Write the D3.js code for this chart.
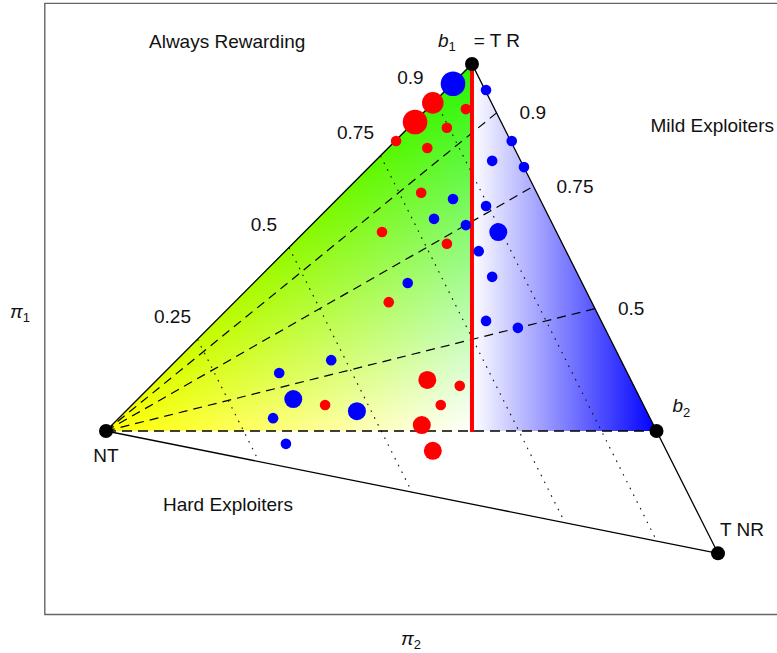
<!DOCTYPE html>
<html>
<head>
<meta charset="utf-8">
<script src="https://cdn.jsdelivr.net/npm/d3@7"></script>
<style>
  body { margin: 0; background: #fff; }
  text { font-family: "Liberation Sans", Arial, sans-serif; font-size: 19px; fill: #111; }
</style>
</head>
<body>
<svg id="chart" width="777" height="653"></svg>
<script>
// vertices of the simplex, in (pi2, pi1) plot units
var vertices = [
  {name: "NT",  p2: 0,      p1: 0},
  {name: "TR",  p2: 0.598,  p1: 1},
  {name: "b2",  p2: 0.8995, p1: 0},
  {name: "TNR", p2: 1,      p1: -1/3}
];

var leftTicks = [0.25, 0.5, 0.75, 0.9];   // along NT -> TR, also the dotted levels
var rightTicks = [0.9, 0.75, 0.5];        // along TR -> TNR
var fanLevels = [0.9, 0.75, 0.5, 0.25];   // dashed rays out of NT (0.25 = b2)

var regionLabels = ["Always Rewarding", "Mild Exploiters", "Hard Exploiters"];

// [pi2, pi1, size class]
var redPoints = [
  [0.505, 0.842, 4], [0.534, 0.894, 3], [0.588, 0.877, 1], [0.557, 0.826, 1],
  [0.525, 0.771, 1], [0.474, 0.790, 1], [0.515, 0.649, 1], [0.451, 0.542, 1],
  [0.557, 0.510, 1], [0.462, 0.351, 1], [0.358, 0.071, 1], [0.525, 0.139, 2],
  [0.578, 0.123, 1], [0.547, 0.071, 1], [0.516, 0.016, 2], [0.534, -0.054, 2]
];
var bluePoints = [
  [0.567, 0.946, 4], [0.621, 0.929, 1], [0.663, 0.790, 1], [0.631, 0.736, 1],
  [0.683, 0.719, 1], [0.621, 0.613, 1], [0.641, 0.542, 2], [0.609, 0.490, 1],
  [0.631, 0.420, 1], [0.621, 0.300, 1], [0.673, 0.281, 1], [0.588, 0.561, 1],
  [0.567, 0.632, 1], [0.536, 0.578, 1], [0.493, 0.403, 1], [0.368, 0.193, 1],
  [0.283, 0.158, 1], [0.306, 0.087, 2], [0.410, 0.054, 2], [0.273, 0.035, 1],
  [0.294, -0.035, 1]
];

var svg = d3.select("#chart");

var x = d3.scaleLinear().domain([-0.1, 1.15]).range([44.8, 809.8]),
    y = d3.scaleLinear().domain([-0.5, 1.165]).range([614.5, 3.4]);
var rad = d3.scaleOrdinal().domain([1, 2, 3, 4]).range([5.3, 9, 10.8, 12.3]);

var V = {};
vertices.forEach(function(d) { V[d.name] = d; });
function px(d) { return [x(d.p2), y(d.p1)]; }
function mix(a, b, t) { return {p2: a.p2 + t * (b.p2 - a.p2), p1: a.p1 + t * (b.p1 - a.p1)}; }
var P = {p2: V.TR.p2, p1: 0};   // foot of the red line

// frame
svg.append("path")
  .attr("d", "M" + x(1.15) + "," + y(1.165) + "H" + x(-0.1) + "V" + y(-0.5) + "H" + x(1.15))
  .attr("fill", "none").attr("stroke", "#666").attr("stroke-width", 1.4);

var defs = svg.append("defs");

// left region: yellow (NT) / green (TR) / white (P)
var gRG = defs.append("linearGradient").attr("id", "gRG")
  .attr("gradientUnits", "userSpaceOnUse")
  .attr("x1", 0).attr("x2", 0).attr("y1", y(1)).attr("y2", y(0));
gRG.append("stop").attr("offset", 0).attr("stop-color", "rgb(36,245,0)");
gRG.append("stop").attr("offset", 1).attr("stop-color", "rgb(255,255,0)");

var a = px(V.NT), b = px(V.TR), c = px(P);
var dx = b[0] - a[0], dy = b[1] - a[1];
var k = ((c[0] - a[0]) * dx + (c[1] - a[1]) * dy) / (dx * dx + dy * dy);
var gB = defs.append("linearGradient").attr("id", "gB")
  .attr("gradientUnits", "userSpaceOnUse")
  .attr("x1", a[0] + k * dx).attr("y1", a[1] + k * dy)
  .attr("x2", c[0]).attr("y2", c[1]);
gB.append("stop").attr("offset", 0).attr("stop-color", "rgb(0,0,0)");
gB.append("stop").attr("offset", 1).attr("stop-color", "rgb(0,0,255)");

var gBlue = defs.append("linearGradient").attr("id", "gBlue")
  .attr("gradientUnits", "userSpaceOnUse")
  .attr("x1", x(P.p2)).attr("x2", x(V.b2.p2)).attr("y1", 0).attr("y2", 0);
gBlue.append("stop").attr("offset", 0).attr("stop-color", "#ffffff");
gBlue.append("stop").attr("offset", 1).attr("stop-color", "#0000ff");

var poly = d3.line();
var leftTri = [px(V.NT), px(V.TR), px(P)];
var fill = svg.append("g").style("isolation", "isolate");
fill.append("path").attr("d", poly(leftTri) + "Z").attr("fill", "url(#gRG)");
fill.append("path").attr("d", poly(leftTri) + "Z").attr("fill", "url(#gB)")
  .style("mix-blend-mode", "screen");
svg.append("path").attr("d", poly([px(V.TR), px(P), px(V.b2)]) + "Z")
  .attr("fill", "url(#gBlue)");

// dotted iso-lines, parallel to TR-TNR
svg.append("g").selectAll("line").data(leftTicks).enter().append("line")
  .attr("x1", function(t) { return x(mix(V.NT, V.TR, t).p2); })
  .attr("y1", function(t) { return y(mix(V.NT, V.TR, t).p1); })
  .attr("x2", function(t) { return x(mix(V.NT, V.TNR, t).p2); })
  .attr("y2", function(t) { return y(mix(V.NT, V.TNR, t).p1); })
  .attr("stroke", "#111").attr("stroke-width", 1.1)
  .attr("stroke-dasharray", "1.6,6");

// dashed rays from NT
svg.append("g").selectAll("line").data(fanLevels).enter().append("line")
  .attr("x1", x(V.NT.p2)).attr("y1", y(V.NT.p1))
  .attr("x2", function(L) { return x(mix(V.TR, V.TNR, 1 - L).p2); })
  .attr("y2", function(L) { return y(mix(V.TR, V.TNR, 1 - L).p1); })
  .attr("stroke", "#000")
  .attr("stroke-width", function(L) { return L === 0.25 ? 1.4 : 1.2; })
  .attr("stroke-dasharray", function(L) { return L === 0.25 ? "10,6" : "9,6"; });

// outer edges
svg.append("path")
  .attr("d", poly([px(V.NT), px(V.TR), px(V.TNR)]) + "Z")
  .attr("fill", "none").attr("stroke", "#000").attr("stroke-width", 1.3);

// red divider
svg.append("line")
  .attr("x1", x(P.p2)).attr("x2", x(P.p2)).attr("y1", y(V.TR.p1)).attr("y2", y(P.p1) + 1)
  .attr("stroke", "#ff0000").attr("stroke-width", 4);

// data points
svg.append("g").selectAll("circle").data(redPoints).enter().append("circle")
  .attr("cx", function(d) { return x(d[0]); })
  .attr("cy", function(d) { return y(d[1]); })
  .attr("r", function(d) { return rad(d[2]); })
  .attr("fill", "#ff0000");
svg.append("g").selectAll("circle").data(bluePoints).enter().append("circle")
  .attr("cx", function(d) { return x(d[0]); })
  .attr("cy", function(d) { return y(d[1]); })
  .attr("r", function(d) { return rad(d[2]); })
  .attr("fill", "#0000ff");

// vertices
svg.append("g").selectAll("circle").data(vertices).enter().append("circle")
  .attr("cx", function(d) { return x(d.p2); })
  .attr("cy", function(d) { return y(d.p1); })
  .attr("r", 7).attr("fill", "#000");

// tick labels
svg.append("g").selectAll("text").data(leftTicks).enter().append("text")
  .attr("x", function(t) { return x(mix(V.NT, V.TR, t).p2) - 25; })
  .attr("y", function(t) { return y(mix(V.NT, V.TR, t).p1) - 16.5; })
  .attr("text-anchor", "middle")
  .text(function(t) { return t; });
svg.append("g").selectAll("text").data(rightTicks).enter().append("text")
  .attr("x", function(L) { return x(mix(V.TR, V.TNR, 1 - L).p2) + 23; })
  .attr("y", function(L) { return y(mix(V.TR, V.TNR, 1 - L).p1) + 6.5; })
  .text(function(L) { return L; });

// region labels
svg.append("text").attr("x", 149).attr("y", 48).text(regionLabels[0]);
svg.append("text").attr("x", 774).attr("y", 132).attr("text-anchor", "end").text(regionLabels[1]);
svg.append("text").attr("x", 163).attr("y", 511).text(regionLabels[2]);

// vertex labels
var t1 = svg.append("text").attr("x", x(V.TR.p2) - 34).attr("y", 47);
t1.append("tspan").style("font-style", "italic").text("b");
t1.append("tspan").attr("dy", 4).style("font-size", "13px").text("1");
t1.append("tspan").attr("dy", -4).attr("dx", 18).text("= T R");

var t2 = svg.append("text").attr("x", x(V.b2.p2) + 16).attr("y", 412);
t2.append("tspan").style("font-style", "italic").text("b");
t2.append("tspan").attr("dy", 5).style("font-size", "13px").text("2");

svg.append("text").attr("x", x(V.NT.p2)).attr("y", 462).attr("text-anchor", "middle").text("NT");
svg.append("text").attr("x", x(V.TNR.p2) + 2).attr("y", 536).text("T NR");

// axis labels
var ay = svg.append("text").attr("x", 10).attr("y", 318);
ay.append("tspan").style("font-style", "italic").text("\u03c0");
ay.append("tspan").attr("dy", 4).style("font-size", "13px").text("1");
var ax = svg.append("text").attr("x", 401).attr("y", 645);
ax.append("tspan").style("font-style", "italic").text("\u03c0");
ax.append("tspan").attr("dy", 4).style("font-size", "13px").text("2");
</script>
</body>
</html>
